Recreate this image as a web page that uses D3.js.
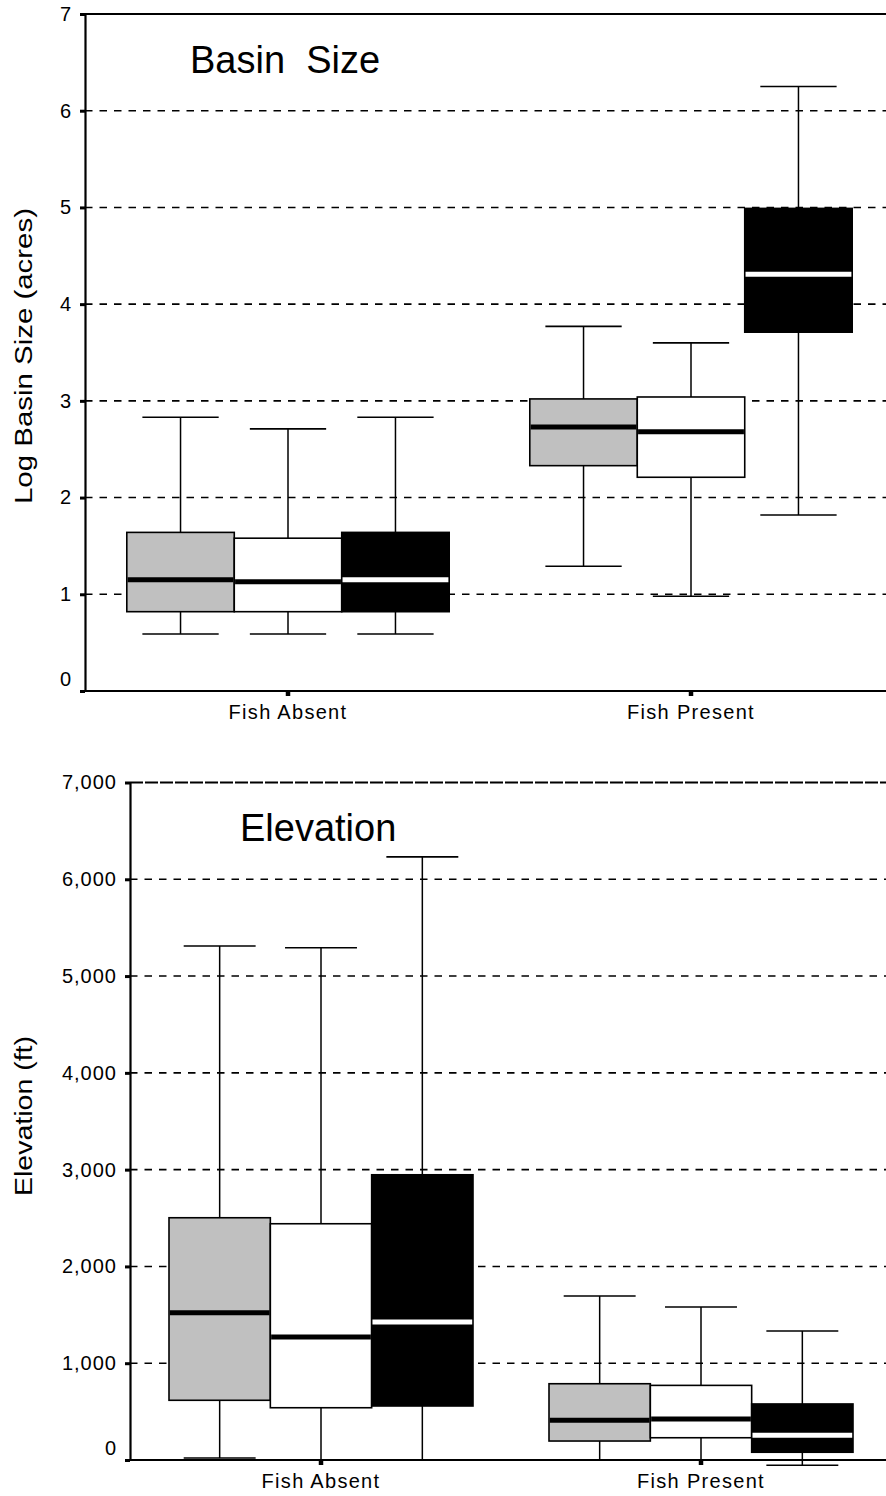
<!DOCTYPE html>
<html>
<head>
<meta charset="utf-8">
<script src="https://cdn.jsdelivr.net/npm/d3@7"></script>
<style>
  body { margin: 0; background: #fff; }
  svg { display: block; font-family: "Liberation Sans", Arial, Helvetica, sans-serif; }
</style>
</head>
<body>
<svg id="chart" width="886" height="1496"></svg>
<script>
// ---- data ----
const categories = ["Fish Absent", "Fish Present"];
const groups = ["Group 1", "Group 2", "Group 3"];
const groupFills = ["#c0c0c0", "#ffffff", "#000000"];
const medianColors = ["#000000", "#000000", "#ffffff"];

// Log basin size (acres); each row = one category, one value per group
const basinLow    = [[0.59, 0.59, 0.59], [1.29, 0.98, 1.82]];
const basinQ1     = [[0.82, 0.82, 0.82], [2.33, 2.21, 3.71]];
const basinMedian = [[1.15, 1.13, 1.15], [2.73, 2.68, 4.31]];
const basinQ3     = [[1.64, 1.58, 1.64], [3.02, 3.04, 4.99]];
const basinHigh   = [[2.83, 2.71, 2.83], [3.77, 3.60, 6.25]];
const basinTicks  = [0, 1, 2, 3, 4, 5, 6, 7];

// Elevation (ft)
const elevLow    = [[20, 0, 0], [0, 0, -55]];
const elevQ1     = [[617, 540, 558], [196, 230, 80]];
const elevMedian = [[1522, 1271, 1426], [410, 424, 255]];
const elevQ3     = [[2503, 2441, 2947], [788, 771, 579]];
const elevHigh   = [[5310, 5292, 6232], [1694, 1581, 1333]];
const elevTicks  = [0, 1000, 2000, 3000, 4000, 5000, 6000, 7000];

const svg = d3.select("#chart");
const W = 886;

function panel(o) {
  const g = svg.append("g");
  const lo = o.ticks[0], hi = o.ticks[o.ticks.length - 1];
  const y = d3.scaleLinear().domain([lo, hi]).range([o.bottom, o.top]);
  const x = d3.scaleBand().domain(categories).range(o.band);
  const gx = d3.scaleBand().domain(groups)
    .range([-0.4 * x.bandwidth(), 0.4 * x.bandwidth()]);
  const bw = gx.bandwidth();
  const capW = 0.71 * bw;

  // dashed gridlines
  g.append("g").selectAll("line")
    .data(o.ticks.filter(t => t > lo && t < hi))
    .join("line")
    .attr("x1", o.left).attr("x2", W)
    .attr("y1", d => y(d)).attr("y2", d => y(d))
    .attr("stroke", "#000").attr("stroke-width", 1.6)
    .attr("stroke-dasharray", "7.5,7");

  // frame line at the top of the value range
  g.append("line")
    .attr("x1", o.left).attr("x2", W)
    .attr("y1", y(hi)).attr("y2", y(hi))
    .attr("stroke", "#000").attr("stroke-width", 2.2)
    .attr("stroke-dasharray", o.topDash || null);

  // one record per box
  const rows = [];
  categories.forEach((c, i) => groups.forEach((gn, j) => rows.push({
    c, gn, j,
    low: o.low[i][j], q1: o.q1[i][j], med: o.med[i][j],
    q3: o.q3[i][j], high: o.high[i][j],
    cx: x(c) + x.bandwidth() / 2 + gx(gn) + bw / 2
  })));

  const box = g.append("g").selectAll("g").data(rows).join("g");

  // whiskers
  box.append("line")
    .attr("x1", d => d.cx).attr("x2", d => d.cx)
    .attr("y1", d => y(d.high)).attr("y2", d => y(d.q3))
    .attr("stroke", "#000").attr("stroke-width", 1.5);
  box.append("line")
    .attr("x1", d => d.cx).attr("x2", d => d.cx)
    .attr("y1", d => y(d.q1)).attr("y2", d => y(d.low))
    .attr("stroke", "#000").attr("stroke-width", 1.5);
  box.append("line")
    .attr("x1", d => d.cx - capW / 2).attr("x2", d => d.cx + capW / 2)
    .attr("y1", d => y(d.high)).attr("y2", d => y(d.high))
    .attr("stroke", "#000").attr("stroke-width", 1.6);
  box.append("line")
    .attr("x1", d => d.cx - capW / 2).attr("x2", d => d.cx + capW / 2)
    .attr("y1", d => y(d.low)).attr("y2", d => y(d.low))
    .attr("stroke", "#000").attr("stroke-width", 1.6);

  // interquartile boxes
  box.append("rect")
    .attr("x", d => d.cx - bw / 2).attr("width", bw)
    .attr("y", d => y(d.q3)).attr("height", d => y(d.q1) - y(d.q3))
    .attr("fill", d => groupFills[d.j])
    .attr("stroke", "#000").attr("stroke-width", 1.6);

  // medians
  box.append("line")
    .attr("x1", d => d.cx - bw / 2 + 0.8).attr("x2", d => d.cx + bw / 2 - 0.8)
    .attr("y1", d => y(d.med)).attr("y2", d => y(d.med))
    .attr("stroke", d => medianColors[d.j]).attr("stroke-width", 5);

  // y axis
  const ya = g.append("g")
    .attr("transform", `translate(${o.left},0)`)
    .call(d3.axisLeft(y).tickValues(o.ticks).tickFormat(o.fmt)
      .tickSize(5).tickSizeOuter(0).tickPadding(8));
  ya.select(".domain").attr("stroke-width", 2.2);
  ya.selectAll(".tick line").attr("stroke-width", 3);
  ya.selectAll(".tick text")
    .attr("font-size", 20).attr("letter-spacing", 1)
    .attr("font-family", "Liberation Sans, Arial, sans-serif")
    .attr("fill", "#000")
    .attr("dy", d => d === lo ? "-0.28em" : "0.32em");

  // x axis line
  g.append("line")
    .attr("x1", o.left - 5).attr("x2", W)
    .attr("y1", o.bottom).attr("y2", o.bottom)
    .attr("stroke", "#000").attr("stroke-width", 2.2);
  const xa = g.append("g")
    .attr("transform", `translate(0,${o.bottom})`)
    .call(d3.axisBottom(x).tickSize(5).tickSizeOuter(0).tickPadding(9));
  xa.select(".domain").remove();
  xa.selectAll(".tick line").attr("stroke-width", 4.5);
  xa.selectAll(".tick text")
    .attr("font-size", 20).attr("letter-spacing", 1.3)
    .attr("font-family", "Liberation Sans, Arial, sans-serif")
    .attr("fill", "#000");

  // panel title
  g.append("text")
    .attr("x", o.titleX).attr("y", o.titleY)
    .attr("font-size", 38).attr("fill", "#000")
    .style("white-space", "pre")
    .text(o.title);

  // y axis title
  g.append("text")
    .attr("transform", `translate(${o.ytX},${o.ytY}) rotate(-90)`)
    .attr("text-anchor", "middle")
    .attr("font-size", 23).attr("fill", "#000")
    .attr("textLength", o.ytLen).attr("lengthAdjust", "spacingAndGlyphs")
    .text(o.yTitle);
}

panel({
  ticks: basinTicks, fmt: d3.format("d"),
  low: basinLow, q1: basinQ1, med: basinMedian, q3: basinQ3, high: basinHigh,
  left: 85, top: 14, bottom: 691, band: [86.5, 892.5],
  title: "Basin  Size", titleX: 190, titleY: 72.5,
  yTitle: "Log Basin Size (acres)", ytX: 32, ytY: 356, ytLen: 296
});

panel({
  ticks: elevTicks, fmt: d3.format(","),
  low: elevLow, q1: elevQ1, med: elevMedian, q3: elevQ3, high: elevHigh,
  left: 130, top: 782.5, bottom: 1460, band: [131, 891],
  topDash: "13,2",
  title: "Elevation", titleX: 240, titleY: 841,
  yTitle: "Elevation (ft)", ytX: 32, ytY: 1116, ytLen: 160
});
</script>
</body>
</html>
